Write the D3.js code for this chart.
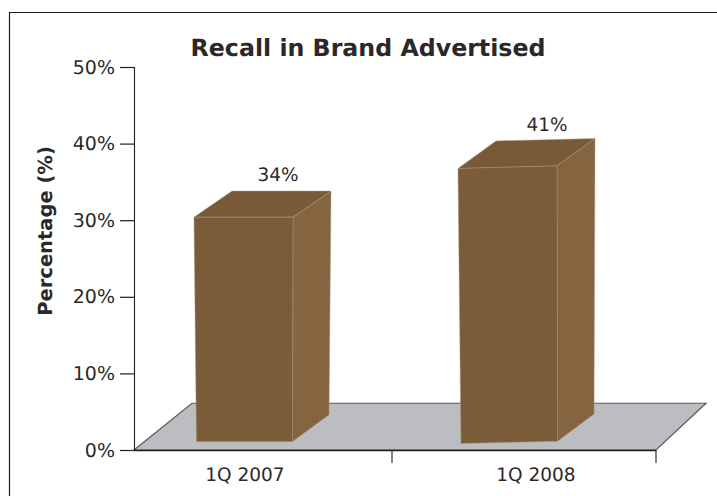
<!DOCTYPE html>
<html><head><meta charset="utf-8">
<script src="https://cdnjs.cloudflare.com/ajax/libs/d3/7.8.5/d3.min.js"></script>
<style>html,body{margin:0;padding:0;background:#fff}svg{display:block}text{font-family:"DejaVu Sans",sans-serif;fill:#2b2829;text-rendering:geometricPrecision}</style>
</head><body><svg id="c" width="717" height="496"></svg>
<script>
const categories=["1Q 2007","1Q 2008"];
const labels=[34,41];
const yTicks=[0,10,20,30,40,50];
const titleText="Recall in Brand Advertised";
const yTitle="Percentage (%)";
// drawn box extents (the picture's bars do not sit at their labels)
const topLeft=[30.4,36.75];
const topRight=[30.4,37.1];
const baseLeft=[1.1,0.85];
const baseRight=[1.1,1.15];
const backTop=[33.8,40.35];
const backTopRight=[33.8,40.65];
const sideBase=[4.6,4.7];

const svg=d3.select("#c");
const W=717,H=496;
const y=d3.scaleLinear().domain([0,50]).range([450,67]);
const x=d3.scaleLinear().domain([0,1,2]).range([134,392,656]);
const depthX=38;
const barW=99;
const floorDepth=y(6.1);
const barInset=[60,66];
const labelInset=[111,144];
const valInset=[144,155];

// frame
svg.append("path").attr("d",`M9.5,${H}V12.5H${W}`).attr("fill","none").attr("stroke","#231f20").attr("stroke-width",1.2);

// floor
svg.append("path")
 .attr("d",d3.line()([[x(0),y(0)],[x(0)+58,floorDepth],[x(2)+50,floorDepth],[x(2),y(0)]])+"Z")
 .attr("fill","#bbbdc0").attr("stroke","#58595b").attr("stroke-width",1.2);

// axes
const yAxis=d3.axisLeft(y).tickValues(yTicks).tickFormat(d=>d+"%").tickSize(14).tickPadding(5);
const gy=svg.append("g").attr("transform",`translate(${x(0)},0)`).call(yAxis);
gy.select(".domain").attr("d",`M0.5,${y(50)}V${y(0)}`).attr("stroke","#231f20").attr("stroke-width",1.1);
gy.selectAll("line").attr("stroke","#231f20").attr("stroke-width",1.2);
gy.selectAll("text").style("font-size","19px");

const gx=svg.append("g").attr("transform",`translate(0,${y(0)})`);
gx.append("line").attr("x1",x(0)).attr("x2",x(2)).attr("y1",0.5).attr("y2",0.5).attr("stroke","#231f20").attr("stroke-width",1.4);
[1,2].forEach(k=>{
  gx.append("line").attr("x1",x(k)).attr("x2",x(k)).attr("y1",0).attr("y2",13).attr("stroke","#231f20").attr("stroke-width",1.1);
});
categories.forEach((c,i)=>{
  svg.append("text").attr("x",x(i)+labelInset[i]).attr("y",481).attr("text-anchor","middle").style("font-size","18.5px").text(c);
});

// bars
const lineP=d3.line();
categories.forEach((c,i)=>{
  const l=x(i)+barInset[i], r=l+barW;
  const tl=[l,y(topLeft[i])], tr=[r,y(topRight[i])];
  const bl=[l+2.5+i*.5,y(baseLeft[i])], br=[r-.5+i,y(baseRight[i])];
  const bkL=[tl[0]+depthX,y(backTop[i])], bkR=[tr[0]+depthX,y(backTopRight[i])];
  const sb=[br[0]+36.5,y(sideBase[i])];
  const g=svg.append("g");
  g.append("path").attr("d",lineP([tl,bkL,bkR,tr])+"Z").attr("fill","#785a38").attr("stroke","#a69379").attr("stroke-width",.5);
  g.append("path").attr("d",lineP([tr,bkR,sb,br])+"Z").attr("fill","#846540").attr("stroke","#a69379").attr("stroke-width",.5);
  g.append("path").attr("d",lineP([tl,tr,br,bl])+"Z").attr("fill","#7a5c39").attr("stroke","#a69379").attr("stroke-width",.5);
});

// value labels
const valY=[181,131];
labels.forEach((v,i)=>{
  svg.append("text").attr("x",x(i)+valInset[i]).attr("y",valY[i]).attr("text-anchor","middle").style("font-size","18.5px").text(v+"%");
});

// titles
svg.append("text").attr("x",368).attr("y",56).attr("text-anchor","middle").style("font-size","23.7px").style("font-weight","bold").text(titleText);
svg.append("text").attr("transform","translate(52,231) rotate(-90)").attr("text-anchor","middle").style("font-size","19.5px").style("font-weight","bold").text(yTitle);
</script></body></html>
